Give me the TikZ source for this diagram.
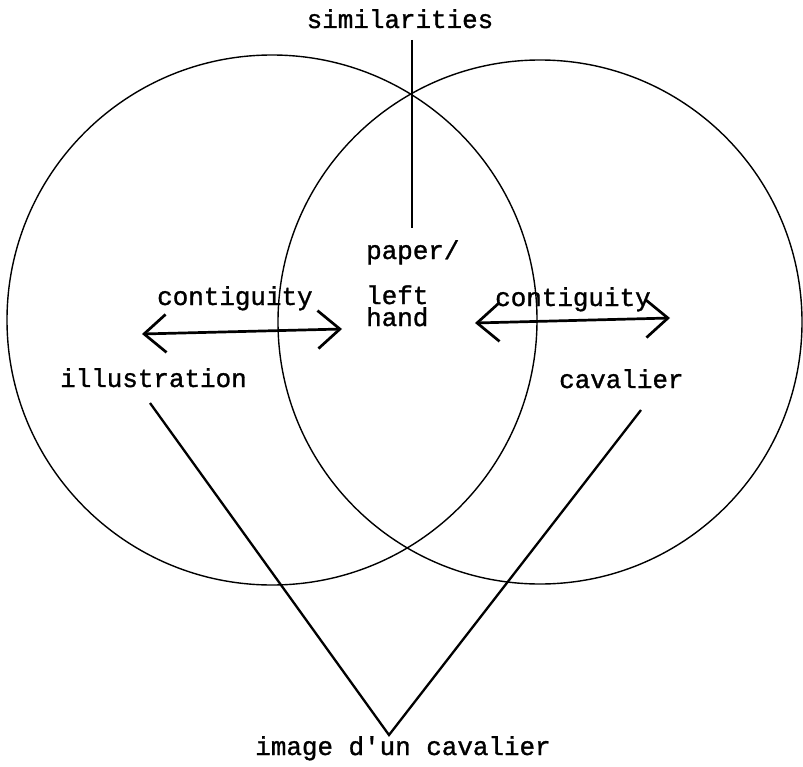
\documentclass[tikz,border=0pt]{standalone}
\usepackage{fontspec}
\setmonofont[FakeBold=1.2]{Liberation Mono}
\usetikzlibrary{arrows.meta}
\begin{document}
\begin{tikzpicture}[x=1bp,y=-1bp,
  lbl/.style={font=\fontsize{26}{22}\selectfont\ttfamily, inner sep=0pt},
  ring/.style={line width=1.4bp},
  link/.style={line width=2.3bp},
  dbl/.style={line width=2.7bp, {Straight Barb[length=22bp,width=38bp]}-{Straight Barb[length=22bp,width=38bp]}}]
\useasboundingbox (0,0) rectangle (803,767);
% circles
\draw[ring] (272,320) circle[radius=265bp];
\draw[ring] (540,322) circle[radius=262bp];
% labels
\node[lbl, anchor=base] (sim) at (400,28) {similarities};
\node[lbl, anchor=base west] (paper) at (366,259) {paper/};
\node[lbl, anchor=base west, align=left] (lefthand) at (366,326) {left\\hand};
\node[lbl, anchor=base west] (contA) at (157,305) {contiguity};
\node[lbl, anchor=base west] (contB) at (495,306) {contiguity};
\node[lbl, anchor=base west] (illus) at (60,387) {illustration};
\node[lbl, anchor=base west] (cav) at (559,388) {cavalier};
\node[lbl, anchor=base] (img) at (403,755) {image d'un cavalier};
% connector points
\coordinate (s1) at (412,40);
\coordinate (s2) at (412,228);
\coordinate (aL1) at (142,334);
\coordinate (aL2) at (342,329);
\coordinate (aR1) at (475,323);
\coordinate (aR2) at (670,318);
\coordinate (i1) at (150,403);
\coordinate (c1) at (641,410);
\coordinate (v) at (389,735);
% connectors
\draw[link] (s1) -- (s2);
\draw[dbl] (aL1) -- (aL2);
\draw[dbl] (aR1) -- (aR2);
\draw[link] (i1) -- (v) -- (c1);
\end{tikzpicture}
\end{document}
